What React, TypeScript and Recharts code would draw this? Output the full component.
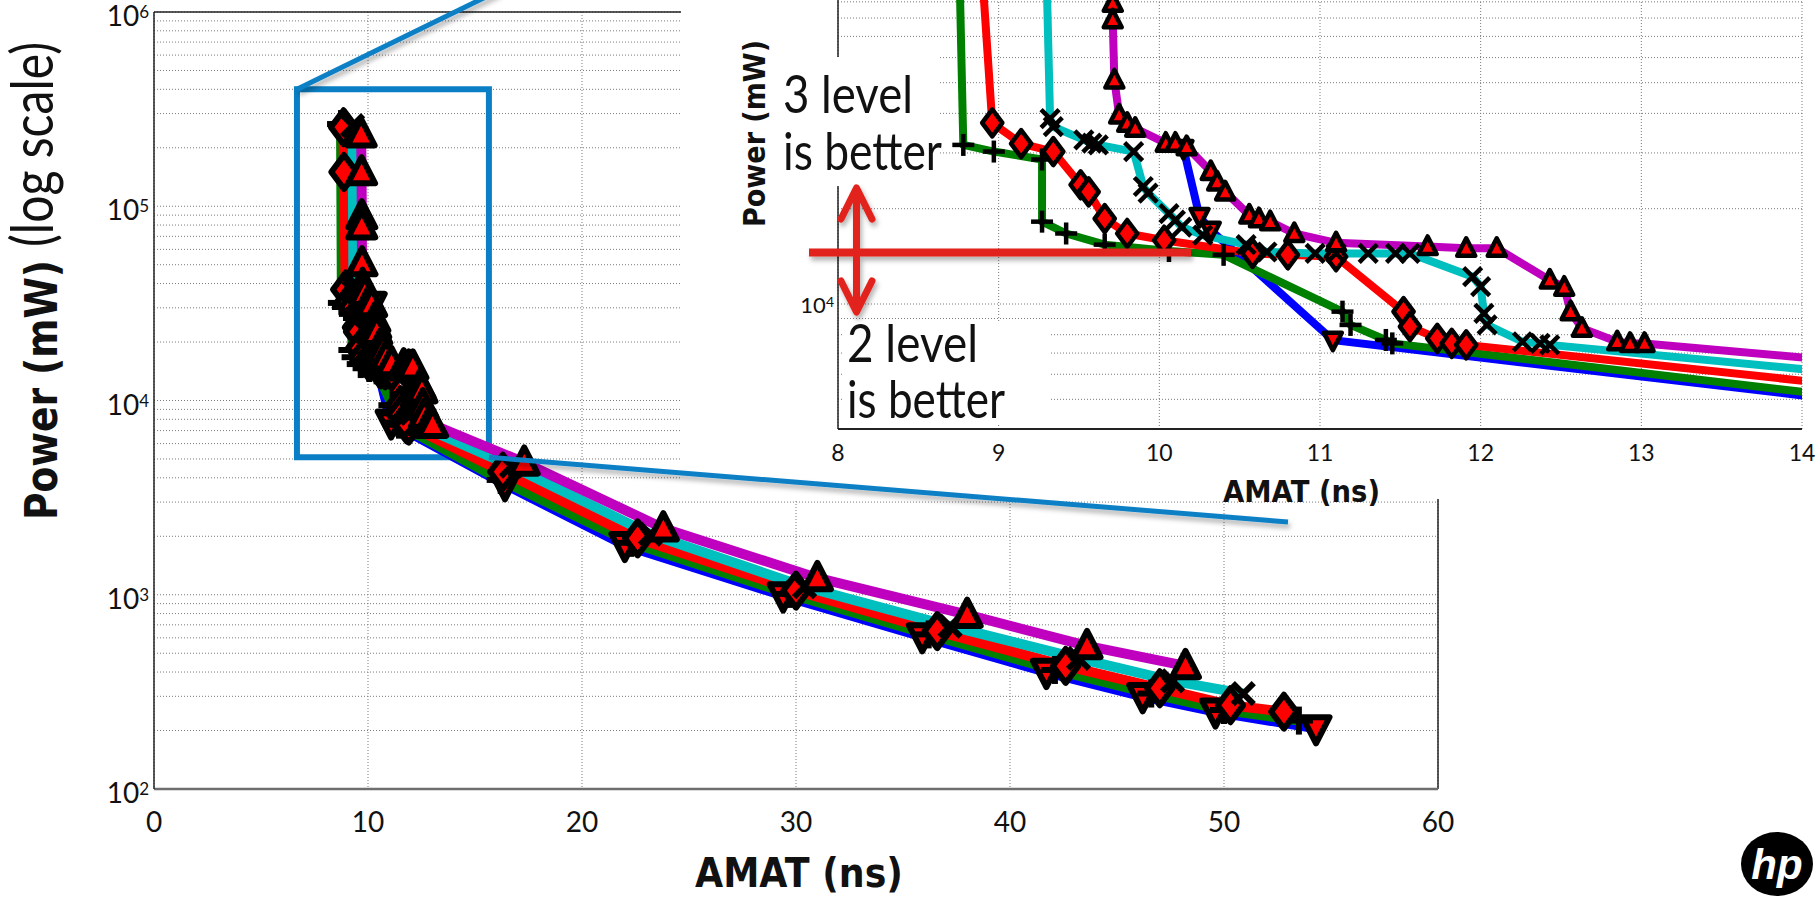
import React from "react";
import {
  LineChart,
  Line,
  XAxis,
  YAxis,
  CartesianGrid,
  ReferenceArea,
  ReferenceLine,
} from "recharts";

// AMAT (ns) / Power (mW) per configuration
const blueAmat = [10.15, 10.25, 10.32, 11.08, 16.4, 22.0, 29.4, 35.9, 41.7, 46.2, 49.6, 54.3];
const bluePower = [31000, 18900, 17100, 7690, 3700, 1800, 990, 610, 400, 300, 250, 205];

const greenAmat = [8.74, 8.78, 8.97, 9.27, 9.27, 9.42, 9.66, 10.06, 10.4, 11.14, 11.19, 11.41, 11.45, 16.2, 22.3, 29.7, 36.2, 42.1, 46.6, 50.0, 53.5];
const greenPower = [265000, 31800, 30300, 28600, 18200, 16700, 15400, 14700, 14300, 9460, 8590, 7700, 7510, 3900, 1850, 1010, 625, 410, 310, 255, 225];

const redAmat = [8.86, 8.88, 8.96, 9.14, 9.34, 9.51, 9.56, 9.66, 9.8, 10.03, 10.58, 10.8, 11.1, 11.52, 11.56, 11.73, 11.82, 11.91, 16.3, 22.6, 30.0, 36.6, 42.6, 47.0, 50.3, 52.8];
const redPower = [255000, 150000, 37300, 32100, 30300, 23800, 22600, 18600, 16700, 15900, 14450, 14300, 14100, 9460, 8480, 7790, 7510, 7430, 4300, 1950, 1050, 650, 430, 330, 270, 250];

const cyanAmat = [9.28, 9.32, 9.34, 9.53, 9.58, 9.62, 9.84, 9.9, 9.93, 10.06, 10.1, 10.14, 10.27, 10.54, 10.67, 10.97, 11.1, 11.3, 11.47, 11.56, 11.95, 12.0, 12.02, 12.04, 12.26, 12.37, 12.43, 16.7, 23.2, 30.4, 37.2, 43.2, 47.6, 50.9];
const cyanPower = [260000, 38500, 36300, 33000, 32200, 31800, 30300, 23500, 22400, 19300, 18400, 17500, 16500, 15400, 14600, 14450, 14450, 14450, 14450, 14450, 12200, 11350, 9340, 8590, 7600, 7510, 7430, 4600, 2050, 1100, 690, 470, 360, 310];

const magentaAmat = [9.68, 9.7, 9.71, 9.71, 9.72, 9.75, 9.8, 9.85, 10.04, 10.1, 10.17, 10.32, 10.36, 10.41, 10.56, 10.62, 10.69, 10.84, 11.1, 11.67, 11.91, 12.1, 12.43, 12.52, 12.56, 12.63, 12.85, 12.93, 13.02, 17.3, 23.8, 31.0, 38.0, 43.6, 48.2];
const magentaPower = [235000, 150000, 89000, 79000, 51000, 39500, 37200, 35900, 32200, 32200, 31400, 26200, 24300, 22600, 19100, 18600, 18200, 16700, 15600, 15200, 15000, 15000, 11900, 11300, 9460, 8380, 7600, 7510, 7510, 4800, 2200, 1220, 790, 545, 430];

const mainXTicks = [0, 10, 20, 30, 40, 50, 60];
const insetXTicks = [8, 9, 10, 11, 12, 13, 14];
const minorSteps = [1, 2, 3, 4, 5, 6, 7, 8, 9];
const mainDecades = [100, 1000, 10000, 100000];
const insetDecades = [1000, 10000];

const mainYTicks = [...mainDecades.flatMap((d) => minorSteps.map((m) => m * d)), 1000000];
const insetYTicks = [...insetDecades.flatMap((d) => minorSteps.map((m) => m * d)).filter((v) => v >= 5000), 100000];

// zoomed region marked on the main plot
const zoomBox = { amatFrom: 6.68, amatTo: 15.65, powerFrom: 5100, powerTo: 400000 };

const toPoints = (amat: number[], power: number[]) => amat.map((x, i) => ({ x, p: power[i] }));

const series = [
  { name: "blue", color: "#0000ff", marker: "v", points: toPoints(blueAmat, bluePower) },
  { name: "green", color: "#008000", marker: "+", points: toPoints(greenAmat, greenPower) },
  { name: "red", color: "#ff0000", marker: "d", points: toPoints(redAmat, redPower) },
  { name: "cyan", color: "#00bfbf", marker: "x", points: toPoints(cyanAmat, cyanPower) },
  { name: "magenta", color: "#bf00bf", marker: "^", points: toPoints(magentaAmat, magentaPower) },
];

const FONT = "Lato, 'Open Sans', sans-serif";
const BOLD = "'DejaVu Sans', 'Liberation Sans', sans-serif";
const GRID = "#7a7a7a";
const BOX_BLUE = "#0a7fc5";
const ARROW_RED = "#e2231c";

// main plot geometry (used for the connector lines only)
const MAIN = { left: 154, right: 1438, top: 12, bottom: 789 };
const mainX = (v: number) => MAIN.left + (v / 60) * (MAIN.right - MAIN.left);
const mainY = (p: number) => MAIN.top + ((6 - Math.log10(p)) / 4) * (MAIN.bottom - MAIN.top);

function markerDot(kind: string, size: number, edge: number) {
  return (props: any) => {
    const { cx, cy, index } = props;
    if (cx == null || cy == null) return <g key={index} />;
    const h = size / 2;
    if (kind === "+" || kind === "x") {
      const a = kind === "x" ? h * 0.75 : 0;
      const b = kind === "x" ? h * 0.75 : h;
      return (
        <g key={index} stroke="#000" strokeWidth={edge} strokeLinecap="butt">
          <line x1={cx - b} y1={cy - a} x2={cx + b} y2={cy + a} />
          <line x1={cx + a} y1={cy - b} x2={cx - a} y2={cy + b} />
        </g>
      );
    }
    let pts = "";
    if (kind === "^") pts = `${cx},${cy - h} ${cx + h * 0.9},${cy + h * 0.75} ${cx - h * 0.9},${cy + h * 0.75}`;
    if (kind === "v") pts = `${cx},${cy + h} ${cx + h * 0.9},${cy - h * 0.75} ${cx - h * 0.9},${cy - h * 0.75}`;
    if (kind === "d") pts = `${cx},${cy - h} ${cx + h * 0.75},${cy} ${cx},${cy + h} ${cx - h * 0.75},${cy}`;
    return (
      <polygon key={index} points={pts} fill="#ff0000" stroke="#000" strokeWidth={edge} strokeLinejoin="round" />
    );
  };
}

const mainSizes: Record<string, number> = { "^": 30, v: 30, d: 34, "+": 28, x: 28 };
const insetSizes: Record<string, number> = { "^": 20, v: 20, d: 27, "+": 22, x: 24 };

const isDecade = (v: number) => Math.abs(Math.log10(v) - Math.round(Math.log10(v))) < 1e-6;

function MainYTick(props: any) {
  const { x, y, payload } = props;
  if (!isDecade(payload.value)) return <g />;
  return (
    <text x={x} y={y + 14} textAnchor="end" fontFamily={FONT} fontSize={28} fill="#111">
      10
      <tspan dy={-8} fontSize={17}>
        {Math.round(Math.log10(payload.value))}
      </tspan>
    </text>
  );
}

function MainXTick(props: any) {
  const { x, y, payload } = props;
  return (
    <text x={x} y={y + 43} textAnchor="middle" fontFamily={FONT} fontSize={28} fill="#111">
      {payload.value}
    </text>
  );
}

function InsetYTick(props: any) {
  const { x, y, payload } = props;
  if (!isDecade(payload.value)) return <g />;
  return (
    <text x={x} y={y + 9} textAnchor="end" fontFamily={FONT} fontSize={22} fill="#111">
      10
      <tspan dy={-6} fontSize={14}>
        {Math.round(Math.log10(payload.value))}
      </tspan>
    </text>
  );
}

function InsetXTick(props: any) {
  const { x, y, payload } = props;
  return (
    <text x={x} y={y + 32} textAnchor="middle" fontFamily={FONT} fontSize={23} fill="#111">
      {payload.value}
    </text>
  );
}

function MainChart() {
  return (
    <LineChart width={1460} height={897} margin={{ top: 12, right: 22, bottom: 48, left: 0 }}>
      <CartesianGrid stroke={GRID} strokeDasharray="1 2" />
      <XAxis
        type="number"
        dataKey="x"
        domain={[0, 60]}
        ticks={mainXTicks}
        allowDataOverflow
        height={60}
        tickSize={0}
        tickMargin={0}
        tickLine={false}
        axisLine={{ stroke: "#6e6e6e", strokeWidth: 2.5 }}
        tick={(p: any) => <MainXTick {...p} />}
      />
      <YAxis
        type="number"
        scale="log"
        domain={[100, 1000000]}
        ticks={mainYTicks}
        interval={0}
        allowDataOverflow
        width={154}
        tickSize={0}
        tickMargin={5}
        tickLine={false}
        axisLine={{ stroke: "#222", strokeWidth: 1.5 }}
        tick={(p: any) => <MainYTick {...p} />}
      />
      <ReferenceLine y={1000000} stroke="#222" strokeWidth={1.5} />
      <ReferenceLine x={60} stroke="#222" strokeWidth={1.5} />
      {series.map((s) => (
        <Line
          key={s.name}
          data={s.points}
          dataKey="p"
          type="linear"
          stroke={s.color}
          strokeWidth={10}
          strokeLinejoin="round"
          dot={markerDot(s.marker, mainSizes[s.marker], 6)}
          activeDot={false}
          isAnimationActive={false}
        />
      ))}
      <ReferenceArea
        x1={zoomBox.amatFrom}
        x2={zoomBox.amatTo}
        y1={zoomBox.powerFrom}
        y2={zoomBox.powerTo}
        fill="none"
        fillOpacity={0}
        stroke={BOX_BLUE}
        strokeWidth={6}
      />
    </LineChart>
  );
}

function InsetChart() {
  return (
    <LineChart width={1120} height={560} margin={{ top: 0, right: 18, bottom: 51, left: 0 }}>
      <CartesianGrid stroke={GRID} strokeDasharray="1 2" />
      <XAxis
        type="number"
        dataKey="x"
        domain={[8, 14]}
        ticks={insetXTicks}
        allowDataOverflow
        height={40}
        tickSize={0}
        tickMargin={0}
        tickLine={false}
        axisLine={{ stroke: "#222", strokeWidth: 2 }}
        tick={(p: any) => <InsetXTick {...p} />}
      />
      <YAxis
        type="number"
        scale="log"
        domain={[4030, 122000]}
        ticks={insetYTicks}
        interval={0}
        allowDataOverflow
        width={138}
        tickSize={0}
        tickMargin={4}
        tickLine={false}
        axisLine={{ stroke: "#222", strokeWidth: 1.5 }}
        tick={(p: any) => <InsetYTick {...p} />}
      />
      {series.map((s) => (
        <Line
          key={s.name}
          data={s.points}
          dataKey="p"
          type="linear"
          stroke={s.color}
          strokeWidth={8}
          strokeLinejoin="round"
          dot={markerDot(s.marker, insetSizes[s.marker], 4.5)}
          activeDot={false}
          isAnimationActive={false}
        />
      ))}
    </LineChart>
  );
}

function Overlay() {
  const boxTL = { x: mainX(zoomBox.amatFrom), y: mainY(zoomBox.powerTo) };
  const boxBR = { x: mainX(zoomBox.amatTo), y: mainY(zoomBox.powerFrom) };
  return (
    <svg width={1820} height={897} style={{ position: "absolute", left: 0, top: 0 }}>
      <defs>
        <filter id="shade" x="-20%" y="-20%" width="140%" height="160%">
          <feDropShadow dx="2" dy="4" stdDeviation="2.5" floodColor="#000" floodOpacity="0.3" />
        </filter>
      </defs>

      {/* axis titles */}
      <text
        x={57}
        y={520}
        transform="rotate(-90 57 520)"
        fontFamily={BOLD}
        fontWeight="bold"
        fontSize={44}
        textLength={260}
        lengthAdjust="spacingAndGlyphs"
        fill="#111"
      >
        Power (mW)
      </text>
      <text
        x={53}
        y={247}
        transform="rotate(-90 53 247)"
        fontFamily={FONT}
        fontSize={58}
        textLength={205}
        lengthAdjust="spacingAndGlyphs"
        fill="#111"
      >
        (log scale)
      </text>
      <text x={695} y={887} fontFamily={BOLD} fontWeight="bold" fontSize={40} textLength={208} lengthAdjust="spacingAndGlyphs" fill="#111">
        AMAT (ns)
      </text>
      <text
        x={765}
        y={227}
        transform="rotate(-90 765 227)"
        fontFamily={BOLD}
        fontWeight="bold"
        fontSize={30}
        textLength={187}
        lengthAdjust="spacingAndGlyphs"
        fill="#111"
      >
        Power (mW)
      </text>
      <text x={1223} y={502} fontFamily={BOLD} fontWeight="bold" fontSize={30} textLength={157} lengthAdjust="spacingAndGlyphs" fill="#111">
        AMAT (ns)
      </text>

      {/* annotation boxes */}
      <rect x={776} y={57} width={164} height={129} fill="#fff" />
      <rect x={843} y={321} width={207} height={104} fill="#fff" />
      <g fontFamily={FONT} fontSize={53} fill="#111">
        <text x={783} y={113} textLength={130} lengthAdjust="spacingAndGlyphs">3 level</text>
        <text x={783} y={170} textLength={159} lengthAdjust="spacingAndGlyphs">is better</text>
        <text x={847} y={362} textLength={131} lengthAdjust="spacingAndGlyphs">2 level</text>
        <text x={847} y={418} textLength={158} lengthAdjust="spacingAndGlyphs">is better</text>
      </g>

      {/* threshold line and arrow */}
      <g filter="url(#shade)" stroke={ARROW_RED} fill="none" strokeLinecap="round" strokeLinejoin="round">
        <line x1={809} y1={252.5} x2={1191} y2={252.5} strokeWidth={8} strokeLinecap="butt" />
        <line x1={856.5} y1={190} x2={856.5} y2={310} strokeWidth={7} />
        <polyline points="841,219 856.5,188 872,219" strokeWidth={7} />
        <polyline points="841,281 856.5,312 872,281" strokeWidth={7} />
      </g>

      {/* connectors from the zoom box */}
      <g filter="url(#shade)" stroke={BOX_BLUE} strokeWidth={5} strokeLinecap="butt">
        <line x1={boxTL.x} y1={boxTL.y} x2={500} y2={-10} />
        <line x1={boxBR.x} y1={boxBR.y} x2={1288} y2={522} />
      </g>

      {/* logo */}
      <ellipse cx={1777} cy={864} rx={36} ry={32} fill="#000" />
      <text
        x={1777}
        y={879}
        textAnchor="middle"
        fontFamily="'Liberation Sans', sans-serif"
        fontStyle="italic"
        fontWeight="bold"
        fontSize={42}
        fill="#fff"
      >
        hp
      </text>
    </svg>
  );
}

export default function App() {
  return (
    <div
      style={{
        position: "absolute",
        left: 0,
        top: 0,
        width: 1820,
        height: 897,
        overflow: "hidden",
        background: "#fff",
      }}
    >
      <div style={{ position: "absolute", left: 0, top: 0 }}>
        <MainChart />
      </div>
      <div style={{ position: "absolute", left: 681, top: 0, width: 1139, height: 499, background: "#fff" }} />
      <div style={{ position: "absolute", left: 700, top: -40 }}>
        <InsetChart />
      </div>
      <Overlay />
    </div>
  );
}
